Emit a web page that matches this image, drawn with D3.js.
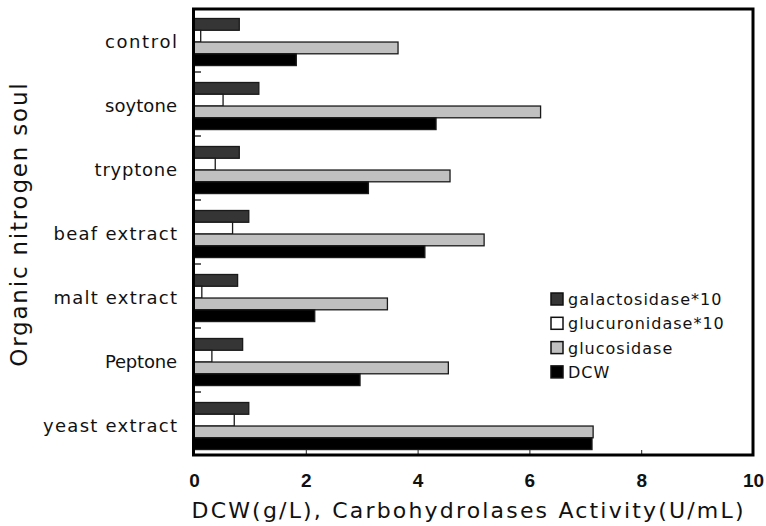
<!DOCTYPE html>
<html>
<head>
<meta charset="utf-8">
<script src="https://cdn.jsdelivr.net/npm/d3@7"></script>
<style>
    body { margin: 0; background: #fff; }
    #chart { width: 766px; height: 526px; }
    text { font-family: "DejaVu Sans", sans-serif; fill: #111; }
</style>
</head>
<body>
<div id="chart"></div>
<script>
// values
const categories = ["control", "soytone", "tryptone", "beaf extract", "malt extract", "Peptone", "yeast extract"];
const galactosidase = [0.81, 1.16, 0.81, 0.98, 0.78, 0.87, 0.98];
const glucuronidase = [0.12, 0.52, 0.38, 0.69, 0.14, 0.32, 0.72];
const glucosidase = [3.65, 6.2, 4.58, 5.19, 3.46, 4.55, 7.14];
const dcw = [1.83, 4.33, 3.12, 4.13, 2.16, 2.97, 7.12];

const seriesNames = ["galactosidase*10", "glucuronidase*10", "glucosidase", "DCW"];
const seriesValues = [galactosidase, glucuronidase, glucosidase, dcw];
const seriesColors = ["#353535", "#ffffff", "#c0c0c0", "#000000"];
const xTicks = [0, 2, 4, 6, 8, 10];

class BarVis {
    constructor(parentElement) {
        this.parentElement = parentElement;
        this.initVis();
    }

    initVis() {
        const vis = this;

        vis.margin = { top: 8, right: 13, bottom: 70, left: 194 };
        vis.width = 766 - vis.margin.left - vis.margin.right;
        vis.height = 526 - vis.margin.top - vis.margin.bottom;

        vis.svg = d3.select("#" + vis.parentElement)
            .append("svg")
            .attr("width", 766)
            .attr("height", 526)
            .append("g")
            .attr("transform", `translate(${vis.margin.left}, ${vis.margin.top})`);

        vis.x = d3.scaleLinear().domain([0, 10]).range([0, vis.width]);
        vis.y0 = d3.scaleBand().domain(categories).range([0, vis.height]);
        vis.y1 = d3.scaleBand().domain(seriesNames)
            .range([0, vis.y0.bandwidth()])
            .paddingOuter(0.72)
            .align(0.62);

        vis.data = categories.map((c, i) => ({
            category: c,
            values: seriesNames.map((s, j) => ({ key: s, value: seriesValues[j][i], color: seriesColors[j] }))
        }));

        vis.updateVis();
    }

    updateVis() {
        const vis = this;

        // bars
        const groups = vis.svg.selectAll(".cat")
            .data(vis.data)
            .enter()
            .append("g")
            .attr("class", "cat")
            .attr("transform", d => `translate(0, ${vis.y0(d.category)})`);

        groups.selectAll("rect")
            .data(d => d.values)
            .enter()
            .append("rect")
            .attr("x", vis.x(0))
            .attr("y", d => vis.y1(d.key))
            .attr("width", d => vis.x(d.value) - vis.x(0))
            .attr("height", vis.y1.bandwidth())
            .attr("fill", d => d.color)
            .attr("stroke", "#1a1a1a")
            .attr("stroke-width", 1.3);

        // category separator ticks on the left axis
        vis.svg.selectAll(".ytick")
            .data(categories.slice(1))
            .enter()
            .append("line")
            .attr("class", "ytick")
            .attr("x1", 0)
            .attr("x2", 7)
            .attr("y1", d => vis.y0(d))
            .attr("y2", d => vis.y0(d))
            .attr("stroke", "#111")
            .attr("stroke-width", 1.3);

        // category labels
        const charW = 10.3;
        vis.svg.selectAll(".cat-label")
            .data(categories)
            .enter()
            .append("text")
            .attr("class", "cat-label")
            .attr("x", -17)
            .attr("y", d => vis.y0(d) + vis.y0.bandwidth() / 2 + 8)
            .attr("text-anchor", "end")
            .attr("textLength", d => d.length * charW)
            .attr("lengthAdjust", "spacing")
            .style("font-size", "18px")
            .text(d => d);

        // x axis
        const xAxis = d3.axisBottom(vis.x)
            .tickValues(xTicks)
            .tickSizeInner(-5)
            .tickSizeOuter(0)
            .tickPadding(19);

        const xAxisGroup = vis.svg.append("g")
            .attr("transform", `translate(0, ${vis.height - 1})`)
            .call(xAxis);
        xAxisGroup.select(".domain").remove();
        xAxisGroup.selectAll("line").attr("stroke", "#222");
        xAxisGroup.selectAll("text")
            .style("font-family", "'Liberation Sans', Arial, sans-serif")
            .style("font-size", "19px")
            .style("font-weight", "bold")
            .attr("fill", "#111");

        // frame
        vis.svg.append("rect")
            .attr("x", -0.5)
            .attr("y", 1)
            .attr("width", vis.width + 0.5)
            .attr("height", vis.height - 2)
            .attr("fill", "none")
            .attr("stroke", "#000")
            .attr("stroke-width", 3);

        vis.svg.append("line")
            .attr("x1", -1)
            .attr("x2", -1)
            .attr("y1", 0)
            .attr("y2", vis.height)
            .attr("stroke", "#000")
            .attr("stroke-width", 2);

        // axis titles
        const xTitle = "DCW(g/L), Carbohydrolases Activity(U/mL)";
        vis.svg.append("text")
            .attr("x", vis.width / 2 - 6)
            .attr("y", vis.height + 62)
            .attr("text-anchor", "middle")
            .attr("textLength", xTitle.length * 13.8)
            .attr("lengthAdjust", "spacing")
            .style("font-size", "22px")
            .text(xTitle);

        const yTitle = "Organic nitrogen soul";
        vis.svg.append("text")
            .attr("transform", `translate(${27 - vis.margin.left}, ${225 - vis.margin.top}) rotate(-90)`)
            .attr("text-anchor", "middle")
            .attr("textLength", yTitle.length * 13.5)
            .attr("lengthAdjust", "spacing")
            .style("font-size", "23px")
            .text(yTitle);

        // legend
        const legend = vis.svg.append("g")
            .attr("transform", `translate(${551 - vis.margin.left}, ${293 - vis.margin.top})`);

        const items = legend.selectAll(".legend-item")
            .data(seriesNames)
            .enter()
            .append("g")
            .attr("class", "legend-item")
            .attr("transform", (d, i) => `translate(0, ${i * 24.3})`);

        items.append("rect")
            .attr("width", 12)
            .attr("height", 12)
            .attr("fill", (d, i) => seriesColors[i])
            .attr("stroke", "#111")
            .attr("stroke-width", 1.5);

        items.append("text")
            .attr("x", 17)
            .attr("y", 12)
            .style("font-size", "16px")
            .style("letter-spacing", "1px")
            .text(d => d);
    }
}

const myBarVis = new BarVis("chart");
</script>
</body>
</html>
